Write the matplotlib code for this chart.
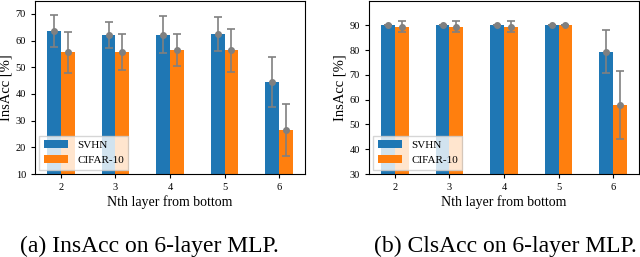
import numpy as np
import matplotlib
matplotlib.use("Agg")
import matplotlib.pyplot as plt

plt.rcParams['font.family'] = ['Liberation Serif', 'DejaVu Serif']

layers = [2, 3, 4, 5, 6]
datasets = ['SVHN', 'CIFAR-10']

# (a) InsAcc
ins_svhn = [63.7, 62.1, 62.2, 62.5, 44.5]
ins_svhn_err = [6.0, 4.8, 6.9, 6.5, 9.4]
ins_cifar = [55.6, 55.6, 56.4, 56.3, 26.4]
ins_cifar_err = [7.7, 6.7, 6.0, 8.0, 9.7]

# (b) ClsAcc
cls_svhn = [90.0, 90.0, 90.0, 90.0, 79.4]
cls_svhn_err = [0.0, 0.0, 0.0, 0.0, 8.8]
cls_cifar = [89.5, 89.5, 89.5, 90.0, 57.8]
cls_cifar_err = [2.1, 2.1, 2.1, 0.0, 13.7]

fig = plt.figure(figsize=(6.4, 2.57), dpi=100)
ax1 = fig.add_axes([35/640, 83/257, 270/640, 174/257 - 0.002])
ax2 = fig.add_axes([369/640, 83/257, 270/640, 174/257 - 0.002])

w = 0.25
x = np.array(layers)


def draw(ax, a, a_err, b, b_err, ylim):
    ax.bar(x - w/2, a, w, color='#1f77b4', label=datasets[0])
    ax.bar(x + w/2, b, w, color='#ff7f0e', label=datasets[1])
    for pos, m, e in [(x - w/2, a, a_err), (x + w/2, b, b_err)]:
        ax.errorbar(pos, m, yerr=e, fmt='o', color='gray', ms=4,
                    elinewidth=1.2, capsize=3, capthick=1.2)
    ax.set_ylim(*ylim)
    ax.set_xticks(layers)
    ax.tick_params(labelsize=7.5, length=3)
    ax.set_xlabel('Nth layer from bottom', fontsize=10, labelpad=2)
    ax.set_ylabel('InsAcc [%]', fontsize=10.5, labelpad=2)
    ax.legend(loc='lower left', fontsize=8, handlelength=2.2,
              borderaxespad=0.4, fancybox=False)


draw(ax1, ins_svhn, ins_svhn_err, ins_cifar, ins_cifar_err, (10, 75))
draw(ax2, cls_svhn, cls_svhn_err, cls_cifar, cls_cifar_err, (30, 100))
ax2.set_yticks([30, 40, 50, 60, 70, 80, 90])

fig.text(149/640, 1 - 252/257, '(a) InsAcc on 6-layer MLP.', ha='center',
         va='baseline', fontsize=17)
fig.text(505/640, 1 - 252/257, '(b) ClsAcc on 6-layer MLP.', ha='center',
         va='baseline', fontsize=17)

fig.savefig('out.png', dpi=100)
